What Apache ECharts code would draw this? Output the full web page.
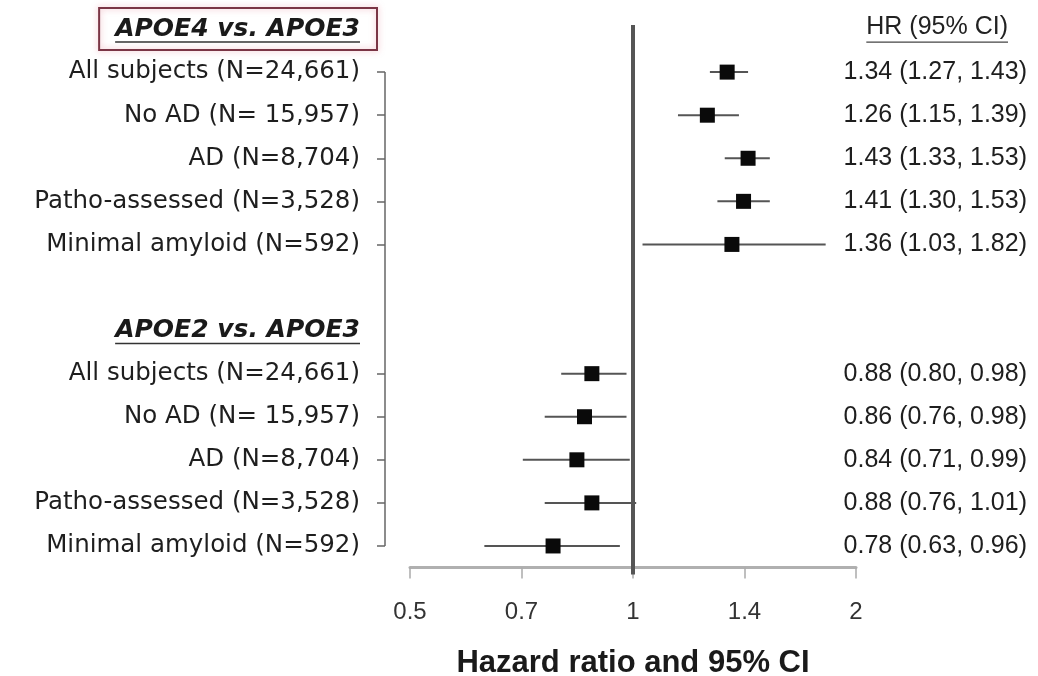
<!DOCTYPE html>
<html>
<head>
<meta charset="utf-8">
<title>Hazard ratios by APOE genotype</title>
<script src="https://cdn.jsdelivr.net/npm/echarts@6/dist/echarts.min.js"></script>
<style>
  html, body { margin: 0; padding: 0; background: #fff; }
  #chart { width: 1038px; height: 676px; }
</style>
</head>
<body>
<div id="chart"></div>
<script>
// Genotype comparisons and the subgroups reported for each
const groupTitles = ['APOE4 vs. APOE3', 'APOE2 vs. APOE3'];
const subgroups = [
  'All subjects (N=24,661)',
  'No AD (N= 15,957)',
  'AD (N=8,704)',
  'Patho-assessed (N=3,528)',
  'Minimal amyloid (N=592)'
];

// Hazard ratios with lower / upper 95% confidence limits
const hrE4 = [1.34, 1.26, 1.43, 1.41, 1.36];
const loE4 = [1.27, 1.15, 1.33, 1.30, 1.03];
const hiE4 = [1.43, 1.39, 1.53, 1.53, 1.82];

const hrE2 = [0.88, 0.86, 0.84, 0.88, 0.78];
const loE2 = [0.80, 0.76, 0.71, 0.76, 0.63];
const hiE2 = [0.98, 0.98, 0.99, 1.01, 0.96];

// Hazard-ratio axis tick labels
const xTickLabels = ['0.5', '0.7', '1', '1.4', '2'];
const ciHeader = 'HR (95% CI)';
const axisTitle = 'Hazard ratio and 95% CI';

// Layout constants
const GRID_LEFT = 410;
const GRID_RIGHT = 182;
const Y_OFFSET = 25;
const LABEL_GAP = 25;
const RIGHT_LABEL_GAP = 171;

// Build the row table: header row, five subgroups, spacer, header row, five subgroups
const blocks = [
  { hr: hrE4, lo: loE4, hi: hiE4 },
  { hr: hrE2, lo: loE2, hi: hiE2 }
];
const rowLabels = [];
const rowRight = [];
const whiskers = [];
const points = [];
const headerRows = [];
const tickRows = new Set();
blocks.forEach((b, g) => {
  if (g > 0) { rowLabels.push(''); rowRight.push(''); }
  headerRows.push(rowLabels.length);
  rowLabels.push('');
  rowRight.push('');
  subgroups.forEach((name, i) => {
    const r = rowLabels.length;
    rowLabels.push(name);
    rowRight.push(b.hr[i].toFixed(2) + ' (' + b.lo[i].toFixed(2) + ', ' + b.hi[i].toFixed(2) + ')');
    whiskers.push([b.lo[i], b.hi[i], r]);
    points.push([b.hr[i], r]);
    tickRows.add(r);
  });
});
const firstRow = Math.min(...tickRows);
const lastRow = Math.max(...tickRows);

const chart = echarts.init(document.getElementById('chart'), null, { renderer: 'canvas' });

const option = {
  backgroundColor: '#ffffff',
  animation: false,
  grid: {
    left: GRID_LEFT,
    right: GRID_RIGHT,
    top: 7.5,
    bottom: 108.5,
    containLabel: false,
    outerBoundsMode: 'none'
  },
  xAxis: {
    type: 'log',
    logBase: Math.SQRT2,
    min: 0.5,
    max: 2,
    name: axisTitle,
    nameLocation: 'middle',
    nameGap: 80,
    nameTextStyle: {
      fontFamily: '"Liberation Sans", Arial, sans-serif',
      fontWeight: 'bold',
      fontSize: 31,
      color: '#1a1a1a'
    },
    axisLine: { show: true, lineStyle: { color: '#b0b0b0', width: 3 } },
    axisTick: { show: true, length: 11, lineStyle: { color: '#aaaaaa', width: 1.5 } },
    axisLabel: {
      margin: 33,
      fontFamily: '"Liberation Sans", Arial, sans-serif',
      fontSize: 24,
      color: '#333',
      formatter: function (v) {
        let best = xTickLabels[0];
        xTickLabels.forEach(s => {
          if (Math.abs(Math.log(+s / v)) < Math.abs(Math.log(+best / v))) best = s;
        });
        return best;
      }
    },
    splitLine: { show: false },
    minorTick: { show: false }
  },
  yAxis: [
    {
      type: 'category',
      data: rowLabels,
      inverse: true,
      boundaryGap: true,
      offset: Y_OFFSET,
      axisLine: { show: false },
      axisTick: {
        show: true,
        alignWithLabel: true,
        length: 8,
        interval: function (idx) { return tickRows.has(idx); },
        lineStyle: { color: '#666', width: 1.5 }
      },
      axisLabel: {
        interval: 0,
        margin: LABEL_GAP,
        fontFamily: '"DejaVu Sans", sans-serif',
        fontSize: 24.5,
        color: '#1e1e1e'
      },
      splitLine: { show: false }
    },
    {
      type: 'category',
      data: rowRight,
      inverse: true,
      boundaryGap: true,
      position: 'right',
      axisLine: { show: false },
      axisTick: { show: false },
      axisLabel: {
        interval: 0,
        align: 'right',
        margin: RIGHT_LABEL_GAP,
        fontFamily: '"Liberation Sans", Arial, sans-serif',
        fontSize: 25,
        color: '#1e1e1e'
      },
      splitLine: { show: false }
    }
  ],
  series: [
    {
      // vertical line of the subgroup axis, from the first to the last subgroup row
      type: 'custom',
      name: 'bracket',
      coordinateSystem: 'cartesian2d',
      silent: true,
      data: [[1, firstRow, lastRow]],
      encode: { x: 0, y: [1, 2] },
      renderItem: function (params, api) {
        const x = params.coordSys.x - Y_OFFSET;
        const top = api.coord([api.value(0), api.value(1)])[1];
        const bottom = api.coord([api.value(0), api.value(2)])[1];
        return {
          type: 'line',
          shape: { x1: x, y1: top, x2: x, y2: bottom },
          style: { stroke: '#666', lineWidth: 1.5 }
        };
      }
    },
    {
      // reference line at HR = 1
      type: 'custom',
      name: 'null effect',
      coordinateSystem: 'cartesian2d',
      silent: true,
      z: 3,
      data: [[1, 0]],
      renderItem: function (params, api) {
        const p = api.coord([api.value(0), api.value(1)]);
        const bottom = params.coordSys.y + params.coordSys.height + 7;
        return {
          type: 'line',
          shape: { x1: p[0], y1: p[1] - 4, x2: p[0], y2: bottom },
          style: { stroke: '#555', lineWidth: 4 }
        };
      }
    },
    {
      // 95% confidence interval whiskers
      type: 'custom',
      name: '95% CI',
      coordinateSystem: 'cartesian2d',
      silent: true,
      z: 2,
      data: whiskers,
      encode: { x: [0, 1], y: 2 },
      renderItem: function (params, api) {
        const a = api.coord([api.value(0), api.value(2)]);
        const b = api.coord([api.value(1), api.value(2)]);
        return {
          type: 'line',
          shape: { x1: a[0], y1: a[1], x2: b[0], y2: b[1] },
          style: { stroke: '#555', lineWidth: 2 }
        };
      }
    },
    {
      // point estimates
      type: 'scatter',
      name: 'HR',
      z: 4,
      symbol: 'rect',
      symbolSize: 15,
      itemStyle: { color: '#0a0a0a', opacity: 1 },
      data: points
    }
  ]
};

chart.setOption(option);

// Group headings (bold italic, underlined, first one boxed) and the HR column heading
function buildHeaders() {
  const ctx = document.createElement('canvas').getContext('2d');
  const headFont = 'italic bold 25px "DejaVu Sans"';
  const ciFont = '25px "Liberation Sans"';
  const els = [];
  const rightEdge = GRID_LEFT - Y_OFFSET - LABEL_GAP;
  headerRows.forEach((r, g) => {
    const y = chart.convertToPixel({ yAxisIndex: 0 }, r);
    ctx.font = headFont;
    const w = ctx.measureText(groupTitles[g]).width;
    els.push({
      type: 'text',
      x: rightEdge,
      y: y,
      style: {
        text: groupTitles[g],
        font: headFont,
        fill: '#1a1a1a',
        align: 'right',
        verticalAlign: 'middle'
      }
    });
    els.push({
      type: 'line',
      shape: { x1: rightEdge - w, y1: y + 13, x2: rightEdge, y2: y + 13 },
      style: { stroke: '#333', lineWidth: 1.5 }
    });
    if (g === 0) {
      els.push({
        type: 'rect',
        shape: { x: rightEdge - w - 16, y: y - 21, width: w + 33, height: 42 },
        style: {
          fill: 'none',
          stroke: '#7a3545',
          lineWidth: 2,
          shadowBlur: 6,
          shadowColor: 'rgba(225, 110, 130, 0.55)'
        }
      });
    }
  });
  const y0 = chart.convertToPixel({ yAxisIndex: 1 }, headerRows[0]);
  const ciRight = chart.getWidth() - GRID_RIGHT + RIGHT_LABEL_GAP - 19;
  ctx.font = ciFont;
  const cw = ctx.measureText(ciHeader).width;
  els.push({
    type: 'text',
    x: ciRight,
    y: y0 - 2,
    style: {
      text: ciHeader,
      font: ciFont,
      fill: '#222',
      align: 'right',
      verticalAlign: 'middle'
    }
  });
  els.push({
    type: 'line',
    shape: { x1: ciRight - cw, y1: y0 + 13, x2: ciRight, y2: y0 + 13 },
    style: { stroke: '#444', lineWidth: 1.2 }
  });
  chart.setOption({ graphic: { elements: els } });
}
buildHeaders();
</script>
</body>
</html>
